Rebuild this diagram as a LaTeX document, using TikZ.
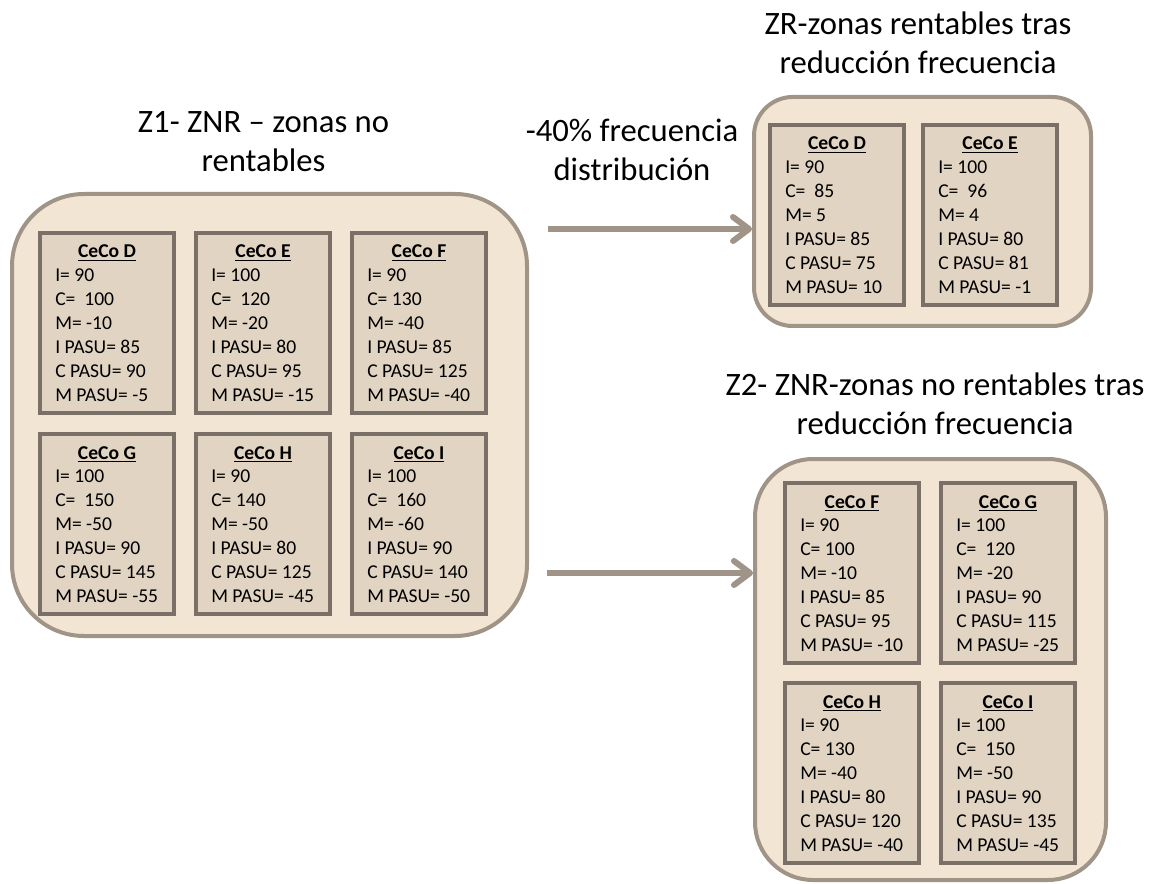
\documentclass[tikz,border=0pt]{standalone}
\usepackage{fontspec}
\setmainfont{Carlito}
\usetikzlibrary{arrows.meta}

\definecolor{zonefill}{HTML}{F3E5D3}
\definecolor{zoneline}{HTML}{A09487}
\definecolor{cecofill}{HTML}{E1D4C2}
\definecolor{cecoline}{HTML}{7A7067}
\definecolor{flowline}{HTML}{A09488}

\tikzset{
  zone/.style={draw=zoneline, fill=zonefill, line width=3pt, inner sep=0pt},
  cecobox/.style={draw=cecoline, fill=cecofill, line width=3pt, inner sep=0pt,
    minimum width=100.5pt, minimum height=135pt, anchor=north west},
  cecohead/.style={anchor=base, inner sep=0pt, font=\fontsize{14.7}{18}\selectfont\bfseries},
  cecobody/.style={anchor=north west, inner sep=0pt, align=left, font=\fontsize{14.7}{18}\selectfont},
  heading/.style={anchor=north, inner sep=0pt, align=center, font=\fontsize{24.5}{29.25}\selectfont},
  flow/.style={draw=flowline, line width=4.5pt, -{Straight Barb[round, length=12pt, width=18pt]}}
}

% one cost-centre card: name, top-left corner, letter, value lines
\newcommand\drawceco[4]{%
  \node[cecobox] (#1) at (#2) {};
  \node[cecohead] (#1-head) at ([yshift=-20.25pt]#1.north) {\underline{CeCo #3}};
  \node[cecobody] (#1-body) at ([xshift=12.75pt,yshift=-24.9pt]#1.north west) {\strut #4};
}

\begin{document}
\begin{tikzpicture}[x=0.75pt, y=-0.75pt]
\useasboundingbox (0,0) rectangle (1153,884);

% zones
\node[zone, rounded corners=54pt, minimum width=386.25pt, minimum height=331.5pt] (z1) at (269.5,415) {};
\node[zone, rounded corners=29pt, minimum width=252.75pt, minimum height=171.75pt] (zr) at (922.5,211.5) {};
\node[zone, rounded corners=43.5pt, minimum width=263.25pt, minimum height=315.75pt] (z2) at (930.5,669.5) {};

% headings
\node[heading] (t1) at (263.5,104.7) {\strut Z1- ZNR – zonas no\\rentables};
\node[heading] (tr) at (918,6.7) {\strut ZR-zonas rentables tras\\reducción frecuencia};
\node[heading] (t2) at (935,367.7) {\strut Z2- ZNR-zonas no rentables tras\\reducción frecuencia};
\node[heading] (tf) at (632,113.7) {\strut -40\% frecuencia\\distribución};

% cost centres before the change
\drawceco{d1}{38,231}{D}{I= 90\\C= ~100\\M= -10\\I PASU= 85\\C PASU= 90\\M PASU= -5}
\drawceco{e1}{194,231}{E}{I= 100\\C= ~120\\M= -20\\I PASU= 80\\C PASU= 95\\M PASU= -15}
\drawceco{f1}{350,231}{F}{I= 90\\C= 130\\M= -40\\I PASU= 85\\C PASU= 125\\M PASU= -40}
\drawceco{g1}{38,432}{G}{I= 100\\C= ~150\\M= -50\\I PASU= 90\\C PASU= 145\\M PASU= -55}
\drawceco{h1}{194,432}{H}{I= 90\\C= 140\\M= -50\\I PASU= 80\\C PASU= 125\\M PASU= -45}
\drawceco{i1}{350,432}{I}{I= 100\\C= ~160\\M= -60\\I PASU= 90\\C PASU= 140\\M PASU= -50}

% profitable after frequency cut
\drawceco{dr}{768,123}{D}{I= 90\\C= ~85\\M= 5\\I PASU= 85\\C PASU= 75\\M PASU= 10}
\drawceco{er}{921,123}{E}{I= 100\\C= ~96\\M= 4\\I PASU= 80\\C PASU= 81\\M PASU= -1}

% still unprofitable after frequency cut
\drawceco{f2}{783,481}{F}{I= 90\\C= 100\\M= -10\\I PASU= 85\\C PASU= 95\\M PASU= -10}
\drawceco{g2}{939,481}{G}{I= 100\\C= ~120\\M= -20\\I PASU= 90\\C PASU= 115\\M PASU= -25}
\drawceco{h2}{783,681}{H}{I= 90\\C= 130\\M= -40\\I PASU= 80\\C PASU= 120\\M PASU= -40}
\drawceco{i2}{939,681}{I}{I= 100\\C= ~150\\M= -50\\I PASU= 90\\C PASU= 135\\M PASU= -45}

% transitions
\coordinate (a1) at (548,229);
\coordinate (a2) at (547,573);
\draw[flow] (a1) -- (a1 -| zr.west);
\draw[flow] (a2) -- (a2 -| z2.west);
\end{tikzpicture}
\end{document}
